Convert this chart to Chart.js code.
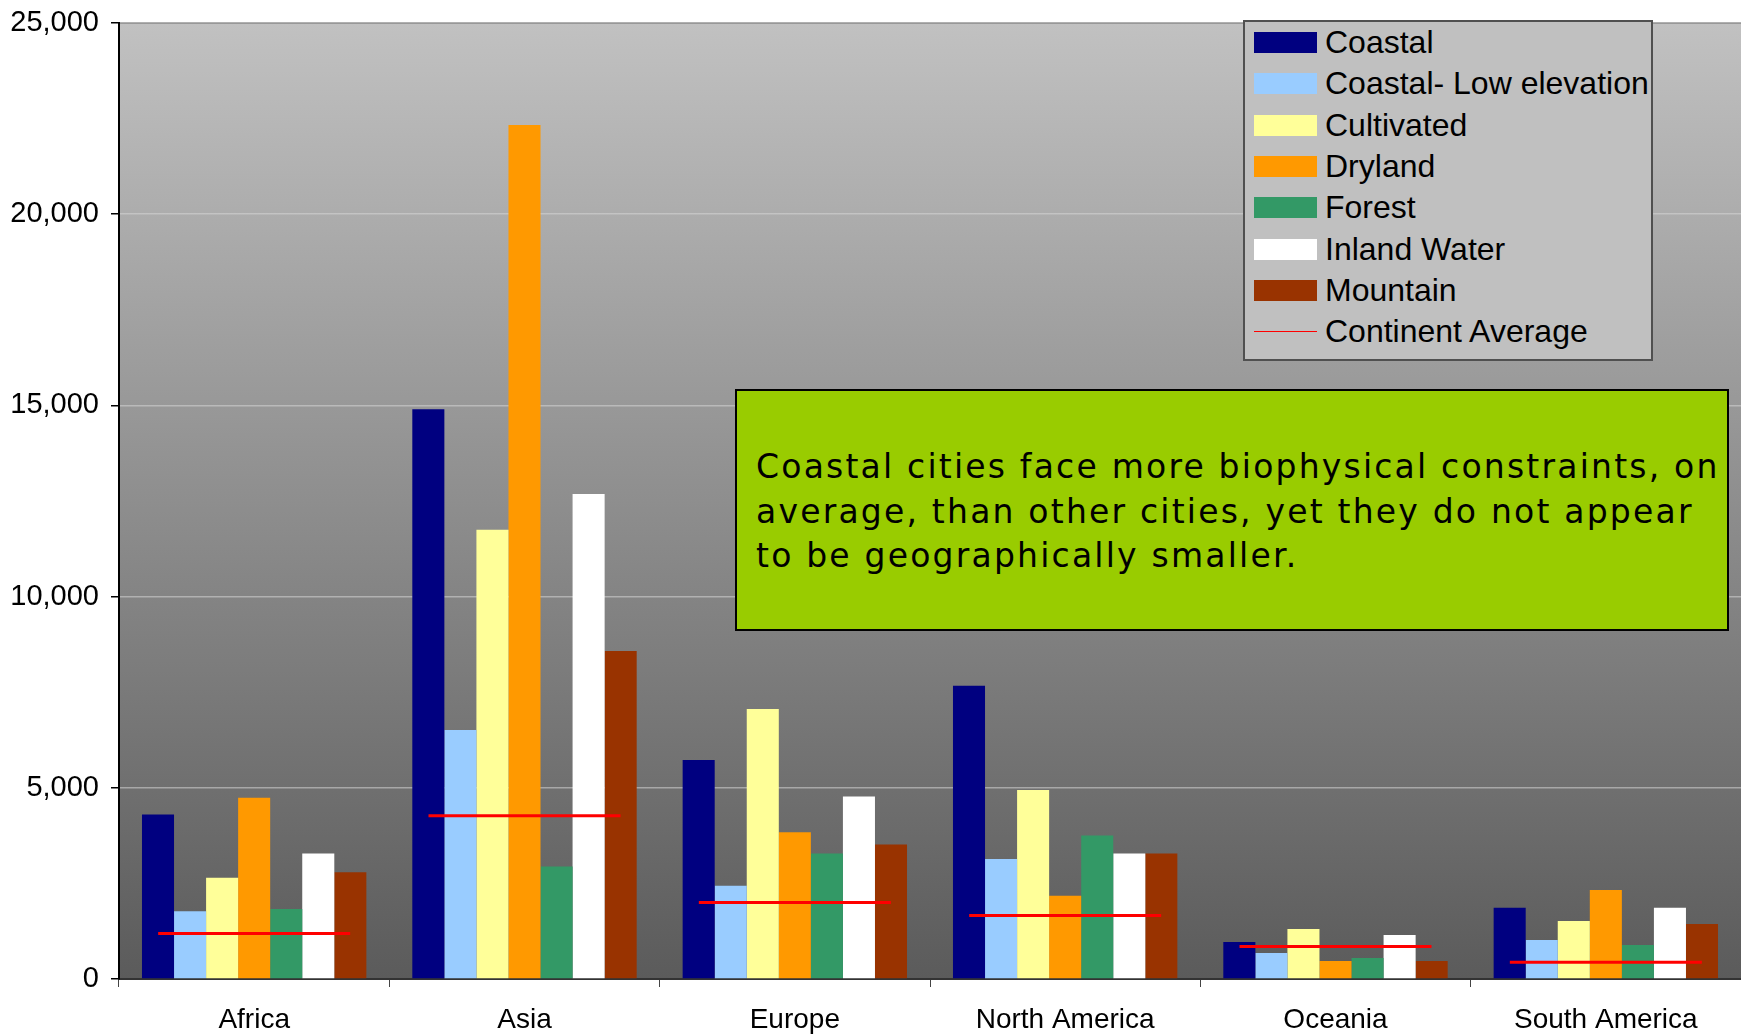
<!DOCTYPE html>
<html lang="en">
<head>
  <meta charset="UTF-8">
  <title>City area by ecosystem and continent</title>
  <style>
    body {
      margin: 0;
      background: #fff;
      font-family: "Liberation Sans", Arial, sans-serif;
    }
    .wrap {
      position: relative;
      width: 1741px;
      height: 1035px;
    }
    #legend {
      position: absolute;
      left: 1243px;
      top: 20px;
      width: 406px;
      height: 337px;
      background: #c0c0c0;
      border: 2px solid #505050;
    }
    .row {
      display: flex;
      align-items: center;
      height: 41.3px;
      font-size: 32px;
      color: #000;
      white-space: nowrap;
    }
    .sw {
      width: 63px;
      height: 21px;
      margin-left: 9px;
      margin-right: 8px;
      flex: none;
    }
    .sw.line {
      height: 1px;
    }
    #note {
      position: absolute;
      left: 735px;
      top: 389px;
      width: 990px;
      height: 238px;
      background: #99cc00;
      border: 2px solid #000;
    }
    #note div {
      position: absolute;
      left: 19px;
      top: 54px;
      font-family: "DejaVu Sans", Verdana, sans-serif;
      font-size: 33px;
      line-height: 44.5px;
      letter-spacing: 2.2px;
      color: #000;
      white-space: nowrap;
    }
  </style>
</head>
<body>
  <div class="wrap">
    <canvas id="chart" width="1741" height="1035"></canvas>
    <div id="legend"></div>
    <div id="note"><div>Coastal cities face more biophysical constraints, on<br>average, than other cities, yet they do not appear<br>to be geographically smaller.</div></div>
  </div>

  <script src="https://cdn.jsdelivr.net/npm/chart.js"></script>
  <script>
    const categories = ['Africa', 'Asia', 'Europe', 'North America', 'Oceania', 'South America'];
    const seriesNames = ['Coastal', 'Coastal- Low elevation', 'Cultivated', 'Dryland', 'Forest', 'Inland Water', 'Mountain'];
    const seriesColors = ['#000080', '#99ccff', '#ffff99', '#ff9900', '#339966', '#ffffff', '#993300'];

    const coastal     = [4300, 14900, 5730, 7670, 970, 1860];
    const coastalLow  = [1770, 6510, 2440, 3140, 680, 1020];
    const cultivated  = [2650, 11750, 7060, 4940, 1310, 1520];
    const dryland     = [4740, 22330, 3840, 2180, 470, 2330];
    const forest      = [1830, 2940, 3280, 3750, 550, 890];
    const inlandWater = [3280, 12680, 4770, 3280, 1150, 1860];
    const mountain    = [2790, 8580, 3520, 3280, 470, 1440];
    const continentAverage = [1190, 4270, 2000, 1660, 850, 440];

    const yTicks = [0, 5000, 10000, 15000, 20000, 25000];

    const barData = [coastal, coastalLow, cultivated, dryland, forest, inlandWater, mountain];

    // legend built from the same arrays
    const legend = document.getElementById('legend');
    seriesNames.forEach((name, i) => {
      legend.innerHTML += `<div class="row"><span class="sw" style="background:${seriesColors[i]}"></span>${name}</div>`;
    });
    legend.innerHTML += `<div class="row"><span class="sw line" style="background:#ff0000"></span>Continent Average</div>`;

    const plotBackground = {
      id: 'plotBackground',
      beforeDraw(chart) {
        const { ctx, chartArea: a } = chart;
        const g = ctx.createLinearGradient(0, a.top, 0, a.bottom);
        g.addColorStop(0, '#c1c1c1');
        g.addColorStop(1, '#5b5b5b');
        ctx.save();
        ctx.fillStyle = g;
        ctx.fillRect(a.left, a.top, a.right - a.left, a.bottom - a.top);
        ctx.strokeStyle = '#808080';
        ctx.lineWidth = 2;
        ctx.beginPath();
        ctx.moveTo(a.left, a.top);
        ctx.lineTo(a.right, a.top);
        ctx.stroke();
        ctx.restore();
      }
    };

    const datasets = barData.map((values, i) => ({
      label: seriesNames[i],
      data: values,
      backgroundColor: seriesColors[i],
      borderWidth: 0,
      categoryPercentage: 0.83,
      barPercentage: 1.0
    }));
    datasets.push({
      type: 'line',
      label: 'Continent Average',
      data: continentAverage,
      showLine: false,
      pointStyle: 'line',
      pointRadius: 96,
      pointBorderWidth: 3,
      borderColor: '#ff0000',
      pointBorderColor: '#ff0000',
      clip: false,
      order: -1
    });

    new Chart(document.getElementById('chart'), {
      type: 'bar',
      data: { labels: categories, datasets: datasets },
      plugins: [plotBackground],
      options: {
        responsive: false,
        animation: false,
        layout: { autoPadding: false, padding: { top: 23, right: 0, left: 0, bottom: 0 } },
        plugins: {
          legend: { display: false },
          tooltip: { enabled: false }
        },
        scales: {
          x: {
            afterFit: s => { s.height = 56; },
            grid: {
              display: true,
              drawOnChartArea: false,
              drawTicks: true,
              tickLength: 8,
              offset: true,
              tickColor: '#444'
            },
            border: { display: true, color: '#333', width: 2 },
            ticks: {
              color: '#000',
              padding: 16,
              font: { family: '"Liberation Sans", Arial, sans-serif', size: 28 }
            }
          },
          y: {
            min: 0,
            max: 25000,
            afterFit: s => { s.width = 119; s.paddingTop = 0; s.paddingBottom = 0; },
            afterBuildTicks: s => { s.ticks = yTicks.map(v => ({ value: v })); },
            grid: {
              color: 'rgba(215,215,215,0.55)',
              lineWidth: 1.5,
              tickLength: 8,
              tickColor: '#000'
            },
            border: { display: true, color: '#000', width: 2 },
            ticks: {
              color: '#000',
              padding: 12,
              font: { family: '"Liberation Sans", Arial, sans-serif', size: 29 },
              callback: v => v.toLocaleString('en-US')
            }
          }
        }
      }
    });
  </script>
</body>
</html>
